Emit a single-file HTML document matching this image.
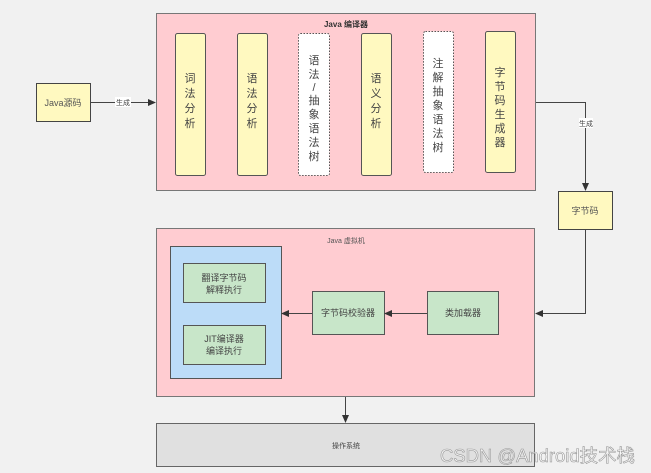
<!DOCTYPE html>
<html><head><meta charset="utf-8"><style>
html,body{margin:0;padding:0;background:#f1f1f1;}
svg{display:block;font-family:"Liberation Sans","Noto Sans CJK SC",sans-serif;}
</style></head><body>
<svg width="651" height="473" viewBox="0 0 651 473" xmlns="http://www.w3.org/2000/svg">
<defs><marker id="a" markerWidth="8" markerHeight="8" refX="7" refY="4" orient="auto" markerUnits="userSpaceOnUse"><path d="M0,0.5 L8,4 L0,7.5 Z" fill="#333"/></marker></defs>
<rect width="651" height="473" fill="#f1f1f1"/>
<!-- compiler -->
<rect x="156.5" y="13.5" width="379" height="177" fill="#ffccd1" stroke="#777" stroke-width="1"/>
<text x="346" y="27" font-size="8" font-weight="bold" text-anchor="middle" fill="#333">Java 编译器</text>
<g font-size="11" fill="#444" text-anchor="middle">
<rect x="175.5" y="33.5" width="30" height="142" rx="2" fill="#fff9c0" stroke="#555"/>
<text x="190" y="82">词</text><text x="190" y="97">法</text><text x="190" y="112">分</text><text x="190" y="127">析</text>
<rect x="237.5" y="33.5" width="30" height="142" rx="2" fill="#fff9c0" stroke="#555"/>
<text x="252" y="82">语</text><text x="252" y="97">法</text><text x="252" y="112">分</text><text x="252" y="127">析</text>
<rect x="298.5" y="33.5" width="31" height="142" rx="2" fill="#fff" stroke="#555" stroke-dasharray="1.5,1.5"/>
<text x="314" y="64">语</text><text x="314" y="78">法</text><text x="314" y="91">/</text><text x="314" y="104">抽</text><text x="314" y="118">象</text><text x="314" y="132">语</text><text x="314" y="146">法</text><text x="314" y="160">树</text>
<rect x="361.5" y="33.5" width="30" height="142" rx="2" fill="#fff9c0" stroke="#555"/>
<text x="376" y="82">语</text><text x="376" y="97">义</text><text x="376" y="112">分</text><text x="376" y="127">析</text>
<rect x="423.5" y="31.5" width="30" height="141" rx="2" fill="#fff" stroke="#555" stroke-dasharray="1.5,1.5"/>
<text x="438" y="67">注</text><text x="438" y="81">解</text><text x="438" y="95">抽</text><text x="438" y="109">象</text><text x="438" y="123">语</text><text x="438" y="137">法</text><text x="438" y="151">树</text>
<rect x="485.5" y="31.5" width="30" height="141" rx="2" fill="#fff9c0" stroke="#555"/>
<text x="500" y="76">字</text><text x="500" y="90">节</text><text x="500" y="104">码</text><text x="500" y="118">生</text><text x="500" y="132">成</text><text x="500" y="146">器</text>
</g>
<!-- source -->
<rect x="36.5" y="83.5" width="54" height="38" fill="#fff9c0" stroke="#444"/>
<text x="63" y="106" font-size="9" text-anchor="middle" fill="#555">Java源码</text>
<line x1="90" y1="102.5" x2="155" y2="102.5" stroke="#444" marker-end="url(#a)"/>
<rect x="115" y="97" width="16" height="10" fill="#fff"/>
<text x="123" y="105" font-size="7" text-anchor="middle" fill="#444">生成</text>
<!-- to bytecode -->
<polyline points="536,102.5 585.5,102.5 585.5,190" fill="none" stroke="#444" marker-end="url(#a)"/>
<rect x="579" y="118" width="14" height="10" fill="#fff"/>
<text x="586" y="126" font-size="7" text-anchor="middle" fill="#444">生成</text>
<rect x="558.5" y="191.5" width="54" height="38" fill="#fff9c0" stroke="#444"/>
<text x="585" y="214" font-size="9" text-anchor="middle" fill="#555">字节码</text>
<polyline points="585.5,230 585.5,313.5 536,313.5" fill="none" stroke="#444" marker-end="url(#a)"/>
<!-- VM -->
<rect x="156.5" y="228.5" width="378" height="168" fill="#ffccd1" stroke="#777"/>
<text x="346" y="243" font-size="7" text-anchor="middle" fill="#555">Java 虚拟机</text>
<rect x="170.5" y="246.5" width="111" height="132" fill="#bcdcf8" stroke="#555"/>
<rect x="183.5" y="263.5" width="82" height="39" fill="#c8e6c9" stroke="#555"/>
<text x="224" y="281" font-size="9" text-anchor="middle" fill="#444">翻译字节码</text>
<text x="224" y="293" font-size="9" text-anchor="middle" fill="#444">解释执行</text>
<rect x="183.5" y="325.5" width="82" height="39" fill="#c8e6c9" stroke="#555"/>
<text x="224" y="342" font-size="9" text-anchor="middle" fill="#444">JIT编译器</text>
<text x="224" y="354" font-size="9" text-anchor="middle" fill="#444">编译执行</text>
<rect x="312.5" y="291.5" width="72" height="43" fill="#c8e6c9" stroke="#555"/>
<text x="348" y="316" font-size="9" text-anchor="middle" fill="#444">字节码校验器</text>
<rect x="427.5" y="291.5" width="71" height="43" fill="#c8e6c9" stroke="#555"/>
<text x="463" y="316" font-size="9" text-anchor="middle" fill="#444">类加载器</text>
<line x1="427" y1="313.5" x2="385" y2="313.5" stroke="#444" marker-end="url(#a)"/>
<line x1="312" y1="313.5" x2="282" y2="313.5" stroke="#444" marker-end="url(#a)"/>
<line x1="345.5" y1="397" x2="345.5" y2="422" stroke="#444" marker-end="url(#a)"/>
<!-- OS -->
<rect x="156.5" y="423.5" width="378" height="43" fill="#e0e0e0" stroke="#666"/>
<text x="346" y="448" font-size="7" text-anchor="middle" fill="#444">操作系统</text>
<text x="440" y="462" font-size="18" textLength="195" lengthAdjust="spacingAndGlyphs" fill="#fff" fill-opacity="0.6" stroke="#999" stroke-width="0.6">CSDN @Android技术栈</text>
</svg>
</body></html>
